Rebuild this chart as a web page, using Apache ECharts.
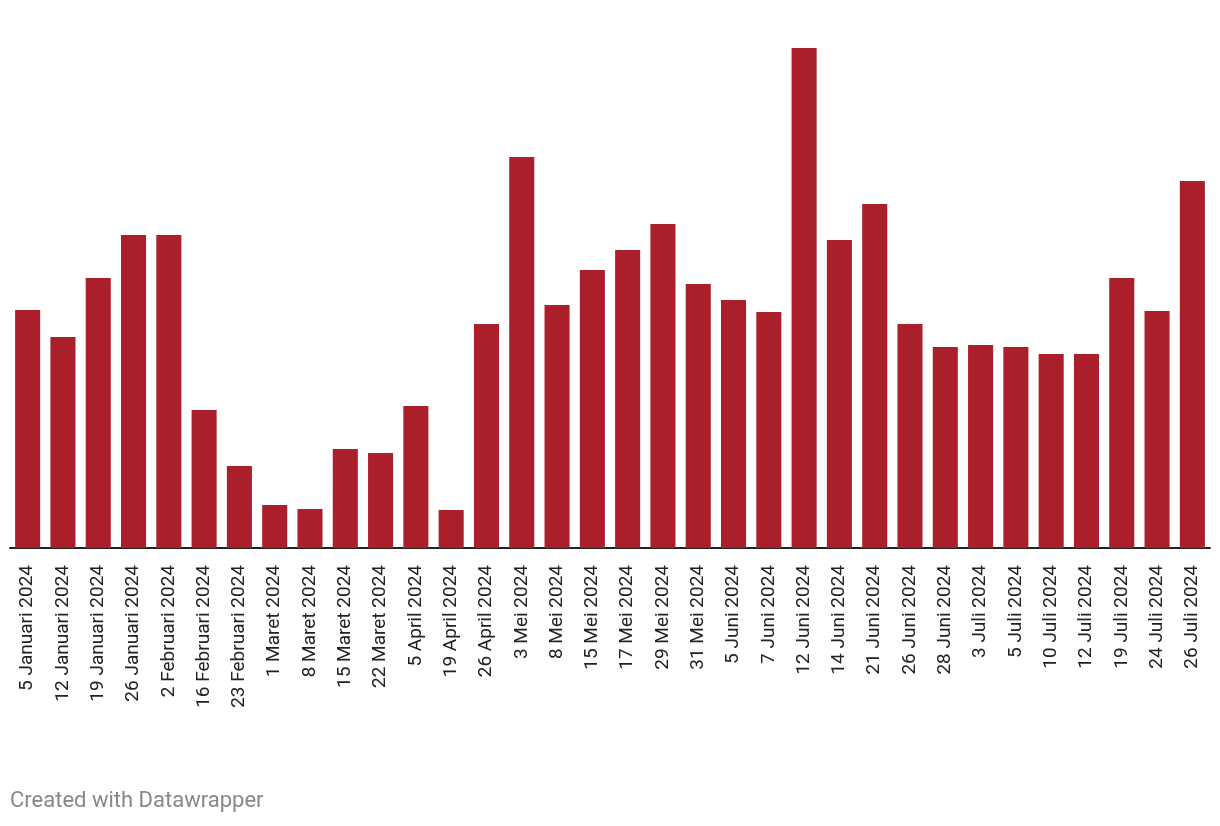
<!DOCTYPE html>
<html><head><meta charset="utf-8">
<script src="https://cdn.jsdelivr.net/npm/echarts@6/dist/echarts.min.js"></script>
<style>html,body{margin:0;padding:0;background:#fff}#c{width:1220px;height:826px}</style>
</head><body><div id="c"></div>
<script>
const categories = ["5 Januari 2024","12 Januari 2024","19 Januari 2024","26 Januari 2024","2 Februari 2024","16 Februari 2024","23 Februari 2024","1 Maret 2024","8 Maret 2024","15 Maret 2024","22 Maret 2024","5 April 2024","19 April 2024","26 April 2024","3 Mei 2024","8 Mei 2024","15 Mei 2024","17 Mei 2024","29 Mei 2024","31 Mei 2024","5 Juni 2024","7 Juni 2024","12 Juni 2024","14 Juni 2024","21 Juni 2024","26 Juni 2024","28 Juni 2024","3 Juli 2024","5 Juli 2024","10 Juli 2024","12 Juli 2024","19 Juli 2024","24 Juli 2024","26 Juli 2024"];
const values = [238,211,270,313,313,138,82,43,39,99,95,142,38,224,391,243,278,298,324,264,248,236,500,308,344,224,201,203,201,194,194,270,237,367];
const chart = echarts.init(document.getElementById('c'));
chart.setOption({
  animation:false,
  grid:{left:10,right:10,top:48,bottom:278,containLabel:false},
  xAxis:{type:'category',data:categories,
    axisLine:{lineStyle:{color:'#222',width:2}},
    axisTick:{show:false},
    axisLabel:{rotate:90,interval:0,margin:17,color:'#222',fontFamily:'Roboto',fontSize:19}},
  yAxis:{type:'value',min:0,max:500,show:false,splitLine:{show:false}},
  series:[{type:'bar',data:values,barCategoryGap:'29%',itemStyle:{color:'#ab1f2b'}}],
  graphic:[{type:'text',left:10,top:790,style:{text:'Created with Datawrapper',fill:'#888',font:'22px Roboto'}}]
});
</script></body></html>
